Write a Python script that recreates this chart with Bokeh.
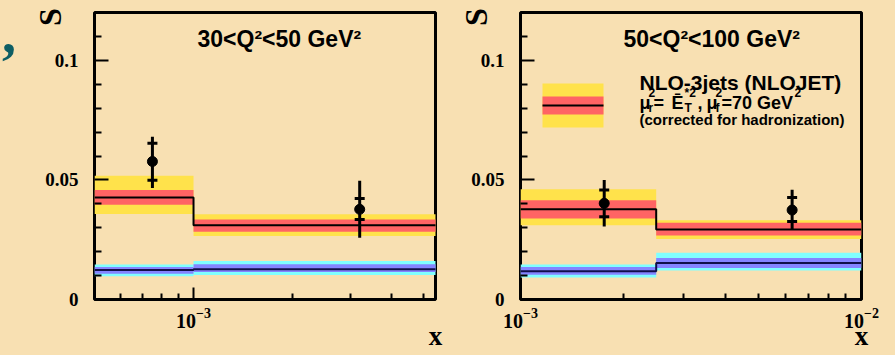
import math
from bokeh.plotting import figure
from bokeh.models import Range1d, FixedTicker, Label, CustomJSTickFormatter, Div
from bokeh.layouts import row
from bokeh.embed import file_html
from bokeh.resources import INLINE

# ---------------- data ----------------
panel_titles = ["30<Q²<50 GeV²", "50<Q²<100 GeV²"]
x_ranges = [(5e-4, 5.44e-3), (1e-3, 1e-2)]
x_major = [[1e-3], [1e-3, 1e-2]]
x_minor = [[6e-4, 7e-4, 8e-4, 9e-4, 2e-3, 3e-3, 4e-3, 5e-3],
           [2e-3, 3e-3, 4e-3, 5e-3, 6e-3, 7e-3, 8e-3, 9e-3]]
y_major = [0, 0.05, 0.1]
y_minor = [0.01, 0.02, 0.03, 0.04, 0.06, 0.07, 0.08, 0.09, 0.11]
x_title = "x"
y_title = "S"

# panel 1 : 30<Q2<50
p1_edges = [5e-4, 1e-3, 5.5e-3]
p1_x = [7.5e-4, 3.2e-3]
p1_s = [0.0577, 0.0377]
p1_stat_lo = [0.0499, 0.0335]
p1_stat_hi = [0.0653, 0.0422]
p1_tot_lo = [0.0466, 0.0258]
p1_tot_hi = [0.0680, 0.0496]
p1_nlo3 = [0.0427, 0.0310]
p1_nlo3_scale_lo = [0.0396, 0.0283]
p1_nlo3_scale_hi = [0.0458, 0.0335]
p1_nlo3_tot_lo = [0.0358, 0.0265]
p1_nlo3_tot_hi = [0.0517, 0.0356]
p1_nlo2 = [0.0123, 0.0127]
p1_nlo2_in_lo = [0.0108, 0.0115]
p1_nlo2_in_hi = [0.0136, 0.0147]
p1_nlo2_out_lo = [0.0097, 0.0102]
p1_nlo2_out_hi = [0.0146, 0.0161]

# panel 2 : 50<Q2<100
p2_edges = [1e-3, 2.5e-3, 1e-2]
p2_x = [1.76e-3, 6.26e-3]
p2_s = [0.0402, 0.0374]
p2_stat_lo = [0.0346, 0.0326]
p2_stat_hi = [0.0458, 0.0426]
p2_tot_lo = [0.0305, 0.0293]
p2_tot_hi = [0.0500, 0.0459]
p2_nlo3 = [0.0377, 0.0293]
p2_nlo3_scale_lo = [0.0339, 0.0268]
p2_nlo3_scale_hi = [0.0415, 0.0321]
p2_nlo3_tot_lo = [0.0310, 0.0253]
p2_nlo3_tot_hi = [0.0461, 0.0331]
p2_nlo2 = [0.0118, 0.0153]
p2_nlo2_in_lo = [0.0104, 0.0132]
p2_nlo2_in_hi = [0.0136, 0.0174]
p2_nlo2_out_lo = [0.0092, 0.0121]
p2_nlo2_out_hi = [0.0146, 0.0195]

# ---------------- style ----------------
BG = "#F8E0B2"
YELLOW = "#FFE24B"
RED = "#FF6464"
CYAN = "#80FFFF"
PURPLE = "#8484FF"
TEAL = "#0E5E64"
SANS = "Liberation Sans"
SERIF = "Liberation Serif"

FRAME_W, FRAME_H = 341, 287
FRAME_TOP = 12
Y_MAX = 0.12
FRAME_LEFTS = [94, 520]
TEXT_DY = -8  # baseline correction for labels


def ydat(py):
    return (FRAME_TOP + FRAME_H - py) * Y_MAX / FRAME_H


def xdat(px, k):
    lo, hi = (math.log10(v) for v in x_ranges[k])
    return 10 ** (lo + (px - FRAME_LEFTS[k]) / FRAME_W * (hi - lo))


def add_text(p, x, py, text, size, font=SANS, style="bold", align="left",
             baseline="alphabetic", color="black"):
    p.add_layout(Label(x=x, y=ydat(py + TEXT_DY), text=text, text_font=font,
                       text_font_size=f"{size}px", text_font_style=style,
                       text_align=align, text_baseline=baseline,
                       text_color=color))


def step_path(edges, vals):
    xs, ys = [], []
    for i, v in enumerate(vals):
        xs += [edges[i], edges[i + 1]]
        ys += [v, v]
    return xs, ys


def make_fig(k, mb_left, mb_right):
    p = figure(x_axis_type="log", x_range=Range1d(*x_ranges[k]),
               y_range=Range1d(0, Y_MAX), frame_width=FRAME_W,
               frame_height=FRAME_H, min_border_left=mb_left,
               min_border_right=mb_right, min_border_top=FRAME_TOP,
               min_border_bottom=54, toolbar_location=None,
               output_backend="svg", background_fill_color=BG,
               border_fill_color=BG, outline_line_color="black",
               outline_line_width=3)
    p.grid.visible = False
    ya = p.yaxis[0]
    ya.ticker = FixedTicker(ticks=y_major, minor_ticks=y_minor)
    ya.formatter = CustomJSTickFormatter(code="return String(tick);")
    ya.axis_line_color = None
    ya.major_tick_in, ya.major_tick_out = 14, 0
    ya.minor_tick_in, ya.minor_tick_out = 7, 0
    ya.major_tick_line_width = 2
    ya.minor_tick_line_width = 2
    ya.major_label_text_font = SERIF
    ya.major_label_text_font_style = "bold"
    ya.major_label_text_font_size = "19px"
    ya.major_label_text_color = "black"
    ya.major_label_standoff = 16
    ya.axis_label = y_title + "\u2009\u200a"
    ya.axis_label_text_font = SERIF
    ya.axis_label_text_font_style = "bold"
    ya.axis_label_text_font_size = "32px"
    ya.axis_label_text_color = "black"
    ya.axis_label_standoff = -26
    xa = p.xaxis[0]
    xa.ticker = FixedTicker(ticks=x_major[k], minor_ticks=x_minor[k])
    xa.axis_line_color = None
    xa.major_tick_in, xa.major_tick_out = 12, 0
    xa.minor_tick_in, xa.minor_tick_out = 6, 0
    xa.major_tick_line_width = 2
    xa.minor_tick_line_width = 2
    xa.major_label_text_font = SERIF
    xa.major_label_text_font_style = "bold"
    xa.major_label_text_font_size = "20px"
    xa.major_label_text_color = "black"
    xa.major_label_standoff = 8
    xa.axis_label = x_title
    xa.axis_label_text_font = SERIF
    xa.axis_label_text_font_style = "bold"
    xa.axis_label_text_font_size = "27px"
    xa.axis_label_text_color = "black"
    xa.axis_label_standoff = -10
    try:
        ya.axis_label_align = "end"
        xa.axis_label_align = "end"
    except Exception:
        pass
    return p


def draw_panel(p, k, edges, xs, s, st_lo, st_hi, tt_lo, tt_hi,
               n3, n3s_lo, n3s_hi, n3t_lo, n3t_hi,
               n2, n2i_lo, n2i_hi, n2o_lo, n2o_hi):
    L, R = edges[:-1], edges[1:]
    p.quad(left=L, right=R, bottom=n3t_lo, top=n3t_hi, fill_color=YELLOW, line_color=None)
    p.quad(left=L, right=R, bottom=n3s_lo, top=n3s_hi, fill_color=RED, line_color=None)
    sx, sy = step_path(edges, n3)
    p.line(sx, sy, line_color="black", line_width=2)
    p.quad(left=L, right=R, bottom=n2o_lo, top=n2o_hi, fill_color=CYAN, line_color=None)
    p.quad(left=L, right=R, bottom=n2i_lo, top=n2i_hi, fill_color=PURPLE, line_color=None)
    sx, sy = step_path(edges, n2)
    p.line(sx, sy, line_color="#10104A", line_width=2)
    p.segment(x0=xs, y0=tt_lo, x1=xs, y1=tt_hi, line_color="black", line_width=3)
    p.scatter(x=xs + xs, y=st_lo + st_hi, marker="dash", size=10,
              line_color="black", line_width=3)
    p.scatter(x=xs, y=s, marker="circle", size=10, fill_color="black",
              line_color="black")
    add_text(p, xdat([197, 623][k], k), 46.7, panel_titles[k], 23)


p1 = make_fig(0, 75, 10)
draw_panel(p1, 0, p1_edges, p1_x, p1_s, p1_stat_lo, p1_stat_hi, p1_tot_lo, p1_tot_hi,
           p1_nlo3, p1_nlo3_scale_lo, p1_nlo3_scale_hi, p1_nlo3_tot_lo, p1_nlo3_tot_hi,
           p1_nlo2, p1_nlo2_in_lo, p1_nlo2_in_hi, p1_nlo2_out_lo, p1_nlo2_out_hi)

p2 = make_fig(1, 75, 32)
draw_panel(p2, 1, p2_edges, p2_x, p2_s, p2_stat_lo, p2_stat_hi, p2_tot_lo, p2_tot_hi,
           p2_nlo3, p2_nlo3_scale_lo, p2_nlo3_scale_hi, p2_nlo3_tot_lo, p2_nlo3_tot_hi,
           p2_nlo2, p2_nlo2_in_lo, p2_nlo2_in_hi, p2_nlo2_out_lo, p2_nlo2_out_hi)

# legend (right panel)
lx0, lx1 = xdat(542, 1), xdat(603, 1)
p2.quad(left=[lx0], right=[lx1], bottom=[ydat(127)], top=[ydat(83)], fill_color=YELLOW, line_color=None)
p2.quad(left=[lx0], right=[lx1], bottom=[ydat(114)], top=[ydat(96)], fill_color=RED, line_color=None)
p2.line([lx0, lx1], [ydat(105), ydat(105)], line_color="black", line_width=2)
add_text(p2, xdat(639, 1), 90, "NLO-3jets (NLOJET)", 21)
runs = [(639, 110, "μ", 18), (648, 100, "2", 12), (648, 115, "r", 12),
        (653, 110, "=", 18), (671, 110, "Ē", 18), (684, 100, "*2", 12),
        (684, 115, "T", 12), (697, 110, ",", 18), (706, 110, "μ", 18),
        (715, 100, "2", 12), (715, 115, "f", 12), (721, 110, "=70 GeV", 18),
        (794, 100, "2", 12)]
for px, py, t, sz in runs:
    add_text(p2, xdat(px, 1), py, t, sz)
add_text(p2, xdat(639, 1), 127, "(corrected for hadronization)", 15)

comma = Div(text=",", render_as_text=True, width=9, height=353,
            styles={"background-color": BG, "color": TEAL,
                    "font-family": "'Liberation Serif'", "font-weight": "bold",
                    "font-size": "56px", "line-height": "56px",
                    "text-indent": "-3px"})

layout = row(comma, p1, p2, spacing=0)
html = file_html(layout, INLINE)
html = html.replace("</head>", "<style>html,body{background:#F8E0B2;}</style></head>", 1)
open("out.html", "w").write(html)
